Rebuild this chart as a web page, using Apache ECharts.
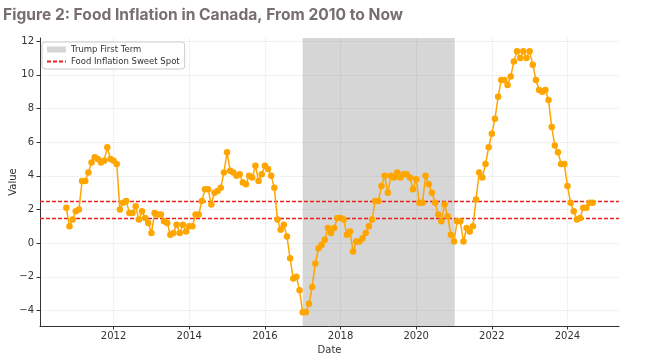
<!DOCTYPE html>
<html>
<head>
<meta charset="utf-8">
<script src="https://cdn.jsdelivr.net/npm/echarts@6/dist/echarts.min.js"></script>
<style>html,body{margin:0;padding:0;background:#fff;}#c{width:650px;height:356px;}</style>
</head>
<body>
<div id="c"></div>
<script>
// Monthly food inflation (%), series starts October 2010
const startYear = 2010;
const startMonth = 10;
const infl2010 = [2.1, 1.0, 1.4];
const infl2011 = [1.9, 2.0, 3.7, 3.7, 4.2, 4.8, 5.1, 5.0, 4.8, 4.9, 5.7, 5.0];
const infl2012 = [4.9, 4.7, 2.0, 2.4, 2.5, 1.8, 1.8, 2.2, 1.4, 1.9, 1.5, 1.2];
const infl2013 = [0.6, 1.8, 1.7, 1.7, 1.3, 1.2, 0.5, 0.6, 1.1, 0.6, 1.1, 0.7];
const infl2014 = [1.0, 1.0, 1.7, 1.7, 2.5, 3.2, 3.2, 2.3, 3.0, 3.1, 3.3, 4.2];
const infl2015 = [5.4, 4.3, 4.2, 4.0, 4.1, 3.6, 3.5, 4.0, 3.9, 4.6, 3.7, 4.1];
const infl2016 = [4.6, 4.4, 4.0, 3.3, 1.4, 0.8, 1.1, 0.4, -0.9, -2.1, -2.0, -2.8];
const infl2017 = [-4.1, -4.1, -3.6, -2.6, -1.2, -0.3, -0.1, 0.2, 0.9, 0.6, 0.9, 1.5];
const infl2018 = [1.5, 1.4, 0.5, 0.7, -0.5, 0.1, 0.1, 0.3, 0.6, 1.0, 1.4, 2.5];
const infl2019 = [2.5, 3.4, 4.0, 3.0, 4.0, 3.9, 4.2, 3.9, 4.1, 4.1, 3.9, 3.2];
const infl2020 = [3.8, 2.4, 2.4, 4.0, 3.5, 3.0, 2.4, 1.7, 1.3, 2.3, 1.6, 0.5];
const infl2021 = [0.1, 1.3, 1.3, 0.1, 0.9, 0.7, 1.0, 2.6, 4.2, 3.9, 4.7, 5.7];
const infl2022 = [6.5, 7.4, 8.7, 9.7, 9.7, 9.4, 9.9, 10.8, 11.4, 11.0, 11.4, 11.0];
const infl2023 = [11.4, 10.6, 9.7, 9.1, 9.0, 9.1, 8.5, 6.9, 5.8, 5.4, 4.7, 4.7];
const infl2024 = [3.4, 2.4, 1.9, 1.4, 1.5, 2.1, 2.1, 2.4, 2.4];

const yearTicks = [2012, 2014, 2016, 2018, 2020, 2022, 2024];
const valueTicks = [-4, -2, 0, 2, 4, 6, 8, 10, 12];
const sweetSpotLow = 1.5;
const sweetSpotHigh = 2.5;
const trumpTerm = [2017.0, 2021.02];

const allValues = [].concat(infl2010, infl2011, infl2012, infl2013, infl2014, infl2015,
  infl2016, infl2017, infl2018, infl2019, infl2020, infl2021, infl2022, infl2023, infl2024);
const points = allValues.map((v, i) => {
  const m = (startMonth - 1) + i;
  return [startYear + m / 12, v];
});

const RED = '#e8221e';
const redDash = {color: RED, type: [4, 2], width: 1.3, opacity: 1};
const tickFont = {fontFamily: 'DejaVu Sans', fontSize: 10, color: '#333'};
function sweetLine(name, v) {
  return {
    name: name, type: 'line', data: [], z: 2, symbol: 'none',
    itemStyle: {color: RED}, lineStyle: redDash,
    markLine: {silent: true, symbol: ['none', 'none'], label: {show: false},
      lineStyle: redDash, emphasis: {disabled: true},
      data: [{yAxis: v}]}
  };
}
const chart = echarts.init(document.getElementById('c'), null, {renderer: 'canvas'});
chart.setOption({
  animation: false,
  backgroundColor: '#fff',
  title: {
    text: 'Figure 2: Food Inflation in Canada, From 2010 to Now',
    left: 3, top: 7, padding: 0,
    textStyle: {fontFamily: 'Inter', fontWeight: 'bold', fontSize: 15.6, color: '#766e71'}
  },
  grid: {left: 40, right: 31, top: 38, bottom: 30, outerBoundsMode: 'none', containLabel: false},
  legend: {
    orient: 'vertical', left: 42, top: 42,
    padding: [3, 5, 3, 4], itemGap: 3, itemWidth: 19, itemHeight: 6,
    backgroundColor: 'rgba(255,255,255,0.85)', borderColor: '#cccccc', borderWidth: 1, borderRadius: 3,
    textStyle: {fontFamily: 'DejaVu Sans', fontSize: 8.5, color: '#333'},
    data: [
      {name: 'Trump First Term', icon: 'rect'},
      {name: 'Food Inflation Sweet Spot', itemStyle: {opacity: 0}}
    ]
  },
  xAxis: {
    type: 'value', min: 2010.054, max: 2025.363,
    name: 'Date', nameLocation: 'middle', nameGap: 13,
    nameTextStyle: {fontFamily: 'DejaVu Sans', fontSize: 10, color: '#333'},
    axisLine: {show: true, onZero: false, lineStyle: {color: '#333', width: 1}},
    axisTick: {show: true, length: 3.5, customValues: yearTicks, lineStyle: {color: '#333'}},
    axisLabel: Object.assign({customValues: yearTicks, margin: 5, formatter: v => String(Math.round(v))}, tickFont),
    splitLine: {show: true, lineStyle: {color: '#dddddd', type: 'dotted', width: 0.8}}
  },
  yAxis: {
    type: 'value', min: -4.92, max: 12.19,
    name: 'Value', nameLocation: 'middle', nameGap: 22, nameMoveOverlap: false,
    nameTextStyle: {fontFamily: 'DejaVu Sans', fontSize: 10, color: '#333'},
    axisLine: {show: true, lineStyle: {color: '#333', width: 1}},
    axisTick: {show: true, length: 3.5, customValues: valueTicks, lineStyle: {color: '#333'}},
    axisLabel: Object.assign({customValues: valueTicks, margin: 6,
      formatter: v => (v < 0 ? '\u2212' + Math.abs(Math.round(v)) : String(Math.round(v)))}, tickFont),
    splitLine: {show: true, lineStyle: {color: '#dddddd', type: 'dotted', width: 0.8}}
  },
  series: [
    {
      name: 'Trump First Term', type: 'line', data: [], z: 1,
      itemStyle: {color: 'rgba(128,128,128,0.32)'},
      markArea: {silent: true, itemStyle: {color: 'rgba(128,128,128,0.32)'},
        data: [[{xAxis: trumpTerm[0]}, {xAxis: trumpTerm[1]}]]}
    },
    sweetLine('Food Inflation Sweet Spot', sweetSpotLow),
    sweetLine('Food Inflation Sweet Spot', sweetSpotHigh),
    {
      name: 'Food Inflation', type: 'line', data: points, z: 5,
      symbol: 'circle', symbolSize: 6.5, showSymbol: true,
      itemStyle: {color: '#FFA500'},
      lineStyle: {color: '#FFA500', width: 1.5}
    }
  ]
});
</script>
</body>
</html>
